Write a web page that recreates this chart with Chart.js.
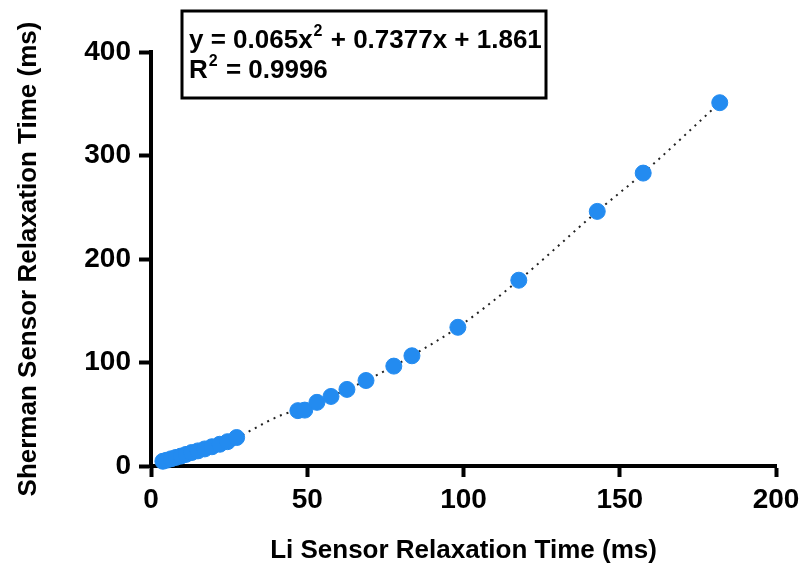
<!DOCTYPE html>
<html>
<head>
<meta charset="utf-8">
<script src="https://cdn.jsdelivr.net/npm/chart.js@4"></script>
<style>
    html, body { margin: 0; padding: 0; background: #fff; }
    #wrap { width: 801px; height: 563px; position: relative; }
</style>
</head>
<body>
<div id="wrap"><canvas id="relaxChart" width="801" height="563"></canvas></div>
<script>
const liTimes = [3.8, 5.0, 6.5, 8.0, 9.6, 11.2, 13.0, 15.0, 17.2, 19.5, 22.0, 24.5, 27.4,
    47.0, 49.2, 53.1, 57.6, 62.7, 68.8, 77.7, 83.5, 98.2, 117.7, 142.8, 157.5, 182.0];
const shermanTimes = [4.6, 5.6, 7.0, 8.3, 9.6, 11.2, 13.0, 14.6, 16.5, 18.6, 21.0, 23.5, 27.5,
    53.5, 54.0, 61.5, 67.2, 74.0, 82.6, 96.5, 106.5, 134.0, 179.5, 246.0, 283.0, 351.0];
const xTicks = [0, 50, 100, 150, 200];
const yTicks = [0, 100, 200, 300, 400];
const fitLines = ["y = 0.065x", "R", " = 0.9996"];

const FONT = "'Liberation Sans', Arial, Helvetica, sans-serif";
const points = liTimes.map((x, i) => ({ x: x, y: shermanTimes[i] }));

// equation box above the plot
const fitBox = {
    id: "fitBox",
    afterDraw(chart) {
        const ctx = chart.ctx;
        ctx.save();
        ctx.lineWidth = 3;
        ctx.strokeStyle = "#000";
        ctx.strokeRect(182, 11, 364, 87);
        ctx.fillStyle = "#000";
        ctx.textBaseline = "alphabetic";
        ctx.textAlign = "left";
        const big = "bold 26px " + FONT;
        const small = "bold 16px " + FONT;

        let x = 189;
        ctx.font = big;
        ctx.fillText(fitLines[0], x, 48);
        x += ctx.measureText(fitLines[0]).width + 1;
        ctx.font = small;
        ctx.fillText("2", x, 36);
        x += ctx.measureText("2").width + 1;
        ctx.font = big;
        ctx.fillText(" + 0.7377x + 1.861", x, 48);

        x = 189;
        ctx.fillText(fitLines[1], x, 78);
        x += ctx.measureText(fitLines[1]).width + 1;
        ctx.font = small;
        ctx.fillText("2", x, 66);
        x += ctx.measureText("2").width + 1;
        ctx.font = big;
        ctx.fillText(fitLines[2], x, 78);
        ctx.restore();
    }
};

new Chart(document.getElementById("relaxChart"), {
    type: "scatter",
    data: {
        datasets: [
            {
                data: points,
                backgroundColor: "#238BF0",
                borderColor: "#238BF0",
                pointRadius: 8,
                pointHoverRadius: 8,
                clip: false,
                order: 1
            },
            {
                data: points,
                showLine: true,
                cubicInterpolationMode: "monotone",
                borderColor: "#222",
                borderWidth: 2,
                borderDash: [2, 5],
                pointRadius: 0,
                fill: false,
                order: 2
            }
        ]
    },
    options: {
        responsive: false,
        animation: false,
        layout: { padding: { top: 52, right: 25, left: 0, bottom: 0 } },
        plugins: { legend: { display: false }, tooltip: { enabled: false } },
        scales: {
            x: {
                type: "linear",
                min: 0, max: 200,
                afterBuildTicks: s => { s.ticks = xTicks.map(v => ({ value: v })); },
                afterFit: s => { s.height = 97; s.paddingLeft = 0; s.paddingRight = 0; },
                border: { display: true, color: "#000", width: 4 },
                grid: { drawOnChartArea: false, drawTicks: true, tickLength: 11, tickWidth: 4, tickColor: "#000" },
                ticks: { color: "#000", padding: 6, font: { family: FONT, size: 28, weight: "bold" } },
                title: { display: true, text: "Li Sensor Relaxation Time (ms)", color: "#000", padding: { top: 0, bottom: -3 },
                    font: { family: FONT, size: 26, weight: "bold" } }
            },
            y: {
                type: "linear",
                min: 0, max: 400,
                afterBuildTicks: s => { s.ticks = yTicks.map(v => ({ value: v })); },
                afterFit: s => { s.width = 151; },
                border: { display: true, color: "#000", width: 4 },
                grid: { drawOnChartArea: false, drawTicks: true, tickLength: 12, tickWidth: 4, tickColor: "#000" },
                ticks: { color: "#000", padding: 8, font: { family: FONT, size: 28, weight: "bold" } },
                title: { display: true, text: "Sherman Sensor Relaxation Time (ms)", color: "#000", padding: { top: 13, bottom: 0 },
                    font: { family: FONT, size: 26, weight: "bold" } }
            }
        }
    },
    plugins: [fitBox]
});
</script>
</body>
</html>
